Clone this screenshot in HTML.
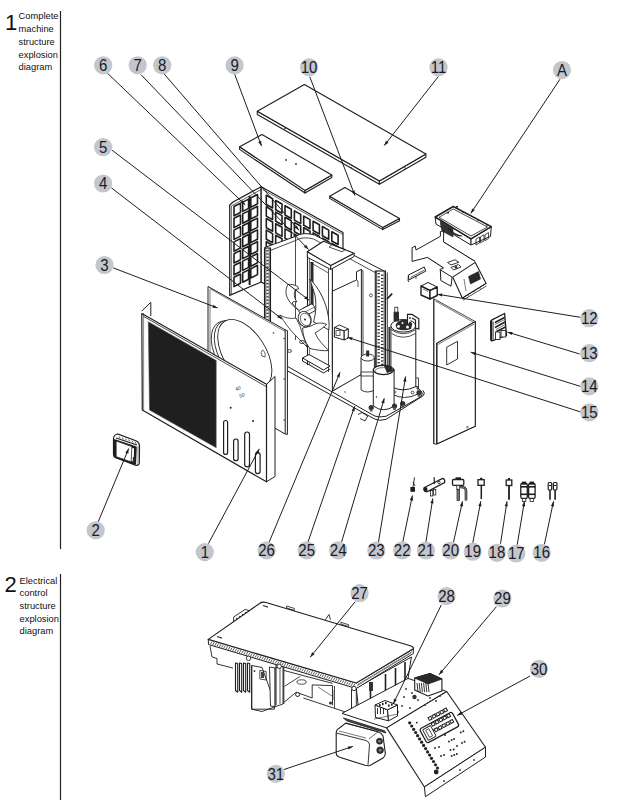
<!DOCTYPE html>
<html><head><meta charset="utf-8">
<style>
html,body{margin:0;padding:0;background:#fff;width:619px;height:810px;overflow:hidden}
body{position:relative;font-family:"Liberation Sans",sans-serif}
.big{position:absolute;font-size:22px;color:#111;line-height:1}
.lab{position:absolute;font-size:9.3px;line-height:12.5px;color:#111}
svg{position:absolute;left:0;top:0}
</style></head><body>
<div class="big" style="left:5px;top:11.5px">1</div>
<div class="lab" style="left:18.6px;top:10.3px;line-height:12.75px">Complete<br>machine<br>structure<br>explosion<br>diagram</div>
<div class="big" style="left:4.6px;top:574px">2</div>
<div class="lab" style="left:19.6px;top:574.6px;line-height:12.65px">Electrical<br>control<br>structure<br>explosion<br>diagram</div>
<svg width="619" height="810" viewBox="0 0 619 810">
<g stroke="#222" stroke-width="1.2">
<line x1="60.5" y1="11" x2="60.5" y2="549"/>
<line x1="60.5" y1="574" x2="60.5" y2="800"/>
</g>
<polygon points="257.3,111.3 379.4,181.1 379.4,184.3 257.3,114.5" fill="#fff" stroke="#1e1e1e" stroke-width="1.1" stroke-linejoin="round" />
<polygon points="379.4,181.1 425.9,154.1 425.9,157.3 379.4,184.3" fill="#fff" stroke="#1e1e1e" stroke-width="1.1" stroke-linejoin="round" />
<polygon points="257.3,111.3 304.4,84.6 425.9,154.1 379.4,181.1" fill="#fff" stroke="#1e1e1e" stroke-width="1.1" stroke-linejoin="round" />
<circle cx="285" cy="128.5" r="0.8" fill="#333"/><circle cx="351" cy="167.5" r="0.8" fill="#333"/><circle cx="405" cy="168" r="0.8" fill="#333"/>
<polygon points="239.6,146.8 305.0,190.4 305.0,193.0 239.6,149.4" fill="#fff" stroke="#1e1e1e" stroke-width="1.1" stroke-linejoin="round" />
<polygon points="305.0,190.4 331.8,175.0 331.8,177.6 305.0,193.0" fill="#fff" stroke="#1e1e1e" stroke-width="1.1" stroke-linejoin="round" />
<polygon points="239.6,146.8 262.0,134.6 331.8,175.0 305.0,190.4" fill="#fff" stroke="#1e1e1e" stroke-width="1.1" stroke-linejoin="round" />
<circle cx="286" cy="160" r="0.9" fill="#333"/><circle cx="296" cy="164" r="0.9" fill="#333"/>
<polygon points="329.7,196.2 382.7,227.4 382.7,229.6 329.7,198.4" fill="#fff" stroke="#1e1e1e" stroke-width="1.1" stroke-linejoin="round" />
<polygon points="382.7,227.4 399.5,218.6 399.5,220.8 382.7,229.6" fill="#fff" stroke="#1e1e1e" stroke-width="1.1" stroke-linejoin="round" />
<polygon points="329.7,196.2 344.9,187.5 399.5,218.6 382.7,227.4" fill="#fff" stroke="#1e1e1e" stroke-width="1.1" stroke-linejoin="round" />
<polygon points="229.7,205.0 233.0,202.0 261.2,186.7 261.2,282.0 229.7,295.4" fill="#fff" stroke="#1e1e1e" stroke-width="1.2" stroke-linejoin="round" />
<polyline points="231.3,206.0 261.2,189.5" fill="none" stroke="#1e1e1e" stroke-width="0.7" stroke-linejoin="round" />
<line x1="231.3" y1="206.0" x2="231.3" y2="294.5" stroke="#1e1e1e" stroke-width="0.7"/>
<line x1="262.7" y1="187.0" x2="262.7" y2="282.0" stroke="#1e1e1e" stroke-width="1.0"/>
<polygon points="261.2,186.7 343.0,232.5 343.0,328.0 261.2,282.0" fill="#fff" stroke="#1e1e1e" stroke-width="1.2" stroke-linejoin="round" />
<polyline points="262.7,189.5 343.0,234.5" fill="none" stroke="#1e1e1e" stroke-width="0.7" stroke-linejoin="round" />
<polygon points="234.0,206.5 240.5,203.2 240.5,212.5 234.0,215.8" fill="none" stroke="#1e1e1e" stroke-width="1.6" stroke-linejoin="round" />
<polygon points="234.0,218.3 240.5,215.0 240.5,224.3 234.0,227.6" fill="none" stroke="#1e1e1e" stroke-width="1.6" stroke-linejoin="round" />
<polygon points="234.0,230.1 240.5,226.8 240.5,236.1 234.0,239.4" fill="none" stroke="#1e1e1e" stroke-width="1.6" stroke-linejoin="round" />
<polygon points="234.0,241.9 240.5,238.6 240.5,247.9 234.0,251.2" fill="none" stroke="#1e1e1e" stroke-width="1.6" stroke-linejoin="round" />
<polygon points="234.0,253.7 240.5,250.4 240.5,259.7 234.0,263.0" fill="none" stroke="#1e1e1e" stroke-width="1.6" stroke-linejoin="round" />
<polygon points="234.0,265.5 240.5,262.2 240.5,271.5 234.0,274.8" fill="none" stroke="#1e1e1e" stroke-width="1.6" stroke-linejoin="round" />
<polygon points="234.0,277.3 240.5,274.0 240.5,283.3 234.0,286.6" fill="none" stroke="#1e1e1e" stroke-width="1.6" stroke-linejoin="round" />
<polygon points="242.7,202.1 248.6,199.1 248.6,208.4 242.7,211.4" fill="none" stroke="#1e1e1e" stroke-width="1.6" stroke-linejoin="round" />
<polygon points="242.7,213.9 248.6,210.9 248.6,220.2 242.7,223.2" fill="none" stroke="#1e1e1e" stroke-width="1.6" stroke-linejoin="round" />
<polygon points="242.7,225.7 248.6,222.7 248.6,232.0 242.7,235.0" fill="none" stroke="#1e1e1e" stroke-width="1.6" stroke-linejoin="round" />
<polygon points="242.7,237.5 248.6,234.5 248.6,243.8 242.7,246.8" fill="none" stroke="#1e1e1e" stroke-width="1.6" stroke-linejoin="round" />
<polygon points="242.7,249.3 248.6,246.3 248.6,255.6 242.7,258.6" fill="none" stroke="#1e1e1e" stroke-width="1.6" stroke-linejoin="round" />
<polygon points="242.7,261.1 248.6,258.1 248.6,267.4 242.7,270.4" fill="none" stroke="#1e1e1e" stroke-width="1.6" stroke-linejoin="round" />
<polygon points="242.7,272.9 248.6,269.9 248.6,279.2 242.7,282.2" fill="none" stroke="#1e1e1e" stroke-width="1.6" stroke-linejoin="round" />
<polygon points="250.8,197.9 257.5,194.5 257.5,203.8 250.8,207.2" fill="none" stroke="#1e1e1e" stroke-width="1.6" stroke-linejoin="round" />
<polygon points="250.8,209.7 257.5,206.3 257.5,215.6 250.8,219.0" fill="none" stroke="#1e1e1e" stroke-width="1.6" stroke-linejoin="round" />
<polygon points="250.8,221.5 257.5,218.1 257.5,227.4 250.8,230.8" fill="none" stroke="#1e1e1e" stroke-width="1.6" stroke-linejoin="round" />
<polygon points="250.8,233.3 257.5,229.9 257.5,239.2 250.8,242.6" fill="none" stroke="#1e1e1e" stroke-width="1.6" stroke-linejoin="round" />
<polygon points="250.8,245.1 257.5,241.7 257.5,251.0 250.8,254.4" fill="none" stroke="#1e1e1e" stroke-width="1.6" stroke-linejoin="round" />
<polygon points="250.8,256.9 257.5,253.5 257.5,262.8 250.8,266.2" fill="none" stroke="#1e1e1e" stroke-width="1.6" stroke-linejoin="round" />
<polygon points="250.8,268.7 257.5,265.3 257.5,274.6 250.8,278.0" fill="none" stroke="#1e1e1e" stroke-width="1.6" stroke-linejoin="round" />
<line x1="249.6" y1="196.0" x2="249.6" y2="285.0" stroke="#1e1e1e" stroke-width="2.0"/>
<polygon points="266.3,195.3 272.6,198.8 272.6,208.0 266.3,204.5" fill="none" stroke="#1e1e1e" stroke-width="1.6" stroke-linejoin="round" />
<polygon points="266.3,206.9 272.6,210.4 272.6,219.6 266.3,216.1" fill="none" stroke="#1e1e1e" stroke-width="1.6" stroke-linejoin="round" />
<polygon points="266.3,218.5 272.6,222.0 272.6,231.2 266.3,227.7" fill="none" stroke="#1e1e1e" stroke-width="1.6" stroke-linejoin="round" />
<polygon points="266.3,230.1 272.6,233.6 272.6,242.8 266.3,239.3" fill="none" stroke="#1e1e1e" stroke-width="1.6" stroke-linejoin="round" />
<polygon points="266.3,241.7 272.6,245.2 272.6,254.4 266.3,250.9" fill="none" stroke="#1e1e1e" stroke-width="1.6" stroke-linejoin="round" />
<polygon points="266.3,253.3 272.6,256.8 272.6,266.0 266.3,262.5" fill="none" stroke="#1e1e1e" stroke-width="1.6" stroke-linejoin="round" />
<polygon points="266.3,264.9 272.6,268.4 272.6,277.6 266.3,274.1" fill="none" stroke="#1e1e1e" stroke-width="1.6" stroke-linejoin="round" />
<polygon points="275.7,200.5 282.0,204.0 282.0,213.2 275.7,209.7" fill="none" stroke="#1e1e1e" stroke-width="1.6" stroke-linejoin="round" />
<polygon points="275.7,212.1 282.0,215.6 282.0,224.8 275.7,221.3" fill="none" stroke="#1e1e1e" stroke-width="1.6" stroke-linejoin="round" />
<polygon points="275.7,223.7 282.0,227.2 282.0,236.4 275.7,232.9" fill="none" stroke="#1e1e1e" stroke-width="1.6" stroke-linejoin="round" />
<polygon points="275.7,235.3 282.0,238.8 282.0,248.0 275.7,244.5" fill="none" stroke="#1e1e1e" stroke-width="1.6" stroke-linejoin="round" />
<polygon points="275.7,246.9 282.0,250.4 282.0,259.6 275.7,256.1" fill="none" stroke="#1e1e1e" stroke-width="1.6" stroke-linejoin="round" />
<polygon points="275.7,258.5 282.0,262.0 282.0,271.2 275.7,267.7" fill="none" stroke="#1e1e1e" stroke-width="1.6" stroke-linejoin="round" />
<polygon points="275.7,270.1 282.0,273.6 282.0,282.8 275.7,279.3" fill="none" stroke="#1e1e1e" stroke-width="1.6" stroke-linejoin="round" />
<polygon points="285.0,205.7 291.3,209.2 291.3,218.4 285.0,214.9" fill="none" stroke="#1e1e1e" stroke-width="1.6" stroke-linejoin="round" />
<polygon points="285.0,217.3 291.3,220.8 291.3,230.0 285.0,226.5" fill="none" stroke="#1e1e1e" stroke-width="1.6" stroke-linejoin="round" />
<polygon points="285.0,228.9 291.3,232.4 291.3,241.6 285.0,238.1" fill="none" stroke="#1e1e1e" stroke-width="1.6" stroke-linejoin="round" />
<polygon points="285.0,240.5 291.3,244.0 291.3,253.2 285.0,249.7" fill="none" stroke="#1e1e1e" stroke-width="1.6" stroke-linejoin="round" />
<polygon points="285.0,252.1 291.3,255.6 291.3,264.8 285.0,261.3" fill="none" stroke="#1e1e1e" stroke-width="1.6" stroke-linejoin="round" />
<polygon points="285.0,263.7 291.3,267.2 291.3,276.4 285.0,272.9" fill="none" stroke="#1e1e1e" stroke-width="1.6" stroke-linejoin="round" />
<polygon points="285.0,275.3 291.3,278.8 291.3,288.0 285.0,284.5" fill="none" stroke="#1e1e1e" stroke-width="1.6" stroke-linejoin="round" />
<polygon points="294.4,210.9 300.7,214.4 300.7,223.6 294.4,220.1" fill="none" stroke="#1e1e1e" stroke-width="1.6" stroke-linejoin="round" />
<polygon points="294.4,222.5 300.7,226.0 300.7,235.2 294.4,231.7" fill="none" stroke="#1e1e1e" stroke-width="1.6" stroke-linejoin="round" />
<polygon points="294.4,234.1 300.7,237.6 300.7,246.8 294.4,243.3" fill="none" stroke="#1e1e1e" stroke-width="1.6" stroke-linejoin="round" />
<polygon points="294.4,245.7 300.7,249.2 300.7,258.4 294.4,254.9" fill="none" stroke="#1e1e1e" stroke-width="1.6" stroke-linejoin="round" />
<polygon points="294.4,257.3 300.7,260.8 300.7,270.0 294.4,266.5" fill="none" stroke="#1e1e1e" stroke-width="1.6" stroke-linejoin="round" />
<polygon points="294.4,268.9 300.7,272.4 300.7,281.6 294.4,278.1" fill="none" stroke="#1e1e1e" stroke-width="1.6" stroke-linejoin="round" />
<polygon points="294.4,280.5 300.7,284.0 300.7,293.2 294.4,289.7" fill="none" stroke="#1e1e1e" stroke-width="1.6" stroke-linejoin="round" />
<polygon points="303.7,216.1 310.0,219.6 310.0,228.8 303.7,225.3" fill="none" stroke="#1e1e1e" stroke-width="1.6" stroke-linejoin="round" />
<polygon points="303.7,227.7 310.0,231.2 310.0,240.4 303.7,236.9" fill="none" stroke="#1e1e1e" stroke-width="1.6" stroke-linejoin="round" />
<polygon points="303.7,239.3 310.0,242.8 310.0,252.0 303.7,248.5" fill="none" stroke="#1e1e1e" stroke-width="1.6" stroke-linejoin="round" />
<polygon points="303.7,250.9 310.0,254.4 310.0,263.6 303.7,260.1" fill="none" stroke="#1e1e1e" stroke-width="1.6" stroke-linejoin="round" />
<polygon points="303.7,262.5 310.0,266.0 310.0,275.2 303.7,271.7" fill="none" stroke="#1e1e1e" stroke-width="1.6" stroke-linejoin="round" />
<polygon points="303.7,274.1 310.0,277.6 310.0,286.8 303.7,283.3" fill="none" stroke="#1e1e1e" stroke-width="1.6" stroke-linejoin="round" />
<polygon points="303.7,285.7 310.0,289.2 310.0,298.4 303.7,294.9" fill="none" stroke="#1e1e1e" stroke-width="1.6" stroke-linejoin="round" />
<polygon points="313.1,221.3 319.4,224.8 319.4,234.0 313.1,230.5" fill="none" stroke="#1e1e1e" stroke-width="1.6" stroke-linejoin="round" />
<polygon points="313.1,232.9 319.4,236.4 319.4,245.6 313.1,242.1" fill="none" stroke="#1e1e1e" stroke-width="1.6" stroke-linejoin="round" />
<polygon points="313.1,244.5 319.4,248.0 319.4,257.2 313.1,253.7" fill="none" stroke="#1e1e1e" stroke-width="1.6" stroke-linejoin="round" />
<polygon points="313.1,256.1 319.4,259.6 319.4,268.8 313.1,265.3" fill="none" stroke="#1e1e1e" stroke-width="1.6" stroke-linejoin="round" />
<polygon points="313.1,267.7 319.4,271.2 319.4,280.4 313.1,276.9" fill="none" stroke="#1e1e1e" stroke-width="1.6" stroke-linejoin="round" />
<polygon points="313.1,279.3 319.4,282.8 319.4,292.0 313.1,288.5" fill="none" stroke="#1e1e1e" stroke-width="1.6" stroke-linejoin="round" />
<polygon points="313.1,290.9 319.4,294.4 319.4,303.6 313.1,300.1" fill="none" stroke="#1e1e1e" stroke-width="1.6" stroke-linejoin="round" />
<polygon points="322.4,226.5 328.7,230.1 328.7,239.3 322.4,235.7" fill="none" stroke="#1e1e1e" stroke-width="1.6" stroke-linejoin="round" />
<polygon points="322.4,238.1 328.7,241.7 328.7,250.9 322.4,247.3" fill="none" stroke="#1e1e1e" stroke-width="1.6" stroke-linejoin="round" />
<polygon points="322.4,249.7 328.7,253.3 328.7,262.5 322.4,258.9" fill="none" stroke="#1e1e1e" stroke-width="1.6" stroke-linejoin="round" />
<polygon points="322.4,261.3 328.7,264.9 328.7,274.1 322.4,270.5" fill="none" stroke="#1e1e1e" stroke-width="1.6" stroke-linejoin="round" />
<polygon points="322.4,272.9 328.7,276.5 328.7,285.7 322.4,282.1" fill="none" stroke="#1e1e1e" stroke-width="1.6" stroke-linejoin="round" />
<polygon points="322.4,284.5 328.7,288.1 328.7,297.3 322.4,293.7" fill="none" stroke="#1e1e1e" stroke-width="1.6" stroke-linejoin="round" />
<polygon points="322.4,296.1 328.7,299.7 328.7,308.9 322.4,305.3" fill="none" stroke="#1e1e1e" stroke-width="1.6" stroke-linejoin="round" />
<polygon points="331.8,231.8 338.1,235.3 338.1,244.5 331.8,241.0" fill="none" stroke="#1e1e1e" stroke-width="1.6" stroke-linejoin="round" />
<polygon points="331.8,243.4 338.1,246.9 338.1,256.1 331.8,252.6" fill="none" stroke="#1e1e1e" stroke-width="1.6" stroke-linejoin="round" />
<polygon points="331.8,255.0 338.1,258.5 338.1,267.7 331.8,264.2" fill="none" stroke="#1e1e1e" stroke-width="1.6" stroke-linejoin="round" />
<polygon points="331.8,266.6 338.1,270.1 338.1,279.3 331.8,275.8" fill="none" stroke="#1e1e1e" stroke-width="1.6" stroke-linejoin="round" />
<polygon points="331.8,278.2 338.1,281.7 338.1,290.9 331.8,287.4" fill="none" stroke="#1e1e1e" stroke-width="1.6" stroke-linejoin="round" />
<polygon points="331.8,289.8 338.1,293.3 338.1,302.5 331.8,299.0" fill="none" stroke="#1e1e1e" stroke-width="1.6" stroke-linejoin="round" />
<polygon points="331.8,301.4 338.1,304.9 338.1,314.1 331.8,310.6" fill="none" stroke="#1e1e1e" stroke-width="1.6" stroke-linejoin="round" />
<path d="M264.5,247.6 L295.5,236.4 Q303,231.5 314.9,235.1 L387.3,272.5 L387.3,372 L264.5,372 Z" fill="#fff" stroke="none"/>
<path d="M264.5,247.6 L295.5,236.4 Q303,231.5 314.9,235.1 L384,271" fill="none" stroke="#1e1e1e" stroke-width="1"/>
<path d="M270.2,250.5 L295.5,240.5 Q303,236 313.5,239 L376,273" fill="none" stroke="#1e1e1e" stroke-width="0.8"/>
<line x1="295.5" y1="236.4" x2="295.5" y2="340.0" stroke="#1e1e1e" stroke-width="0.8"/>
<rect x="264.5" y="248" width="6.0" height="104" fill="#fff" stroke="#1e1e1e" stroke-width="1.1"/>
<line x1="265.8" y1="248" x2="265.8" y2="352" stroke="#1e1e1e" stroke-width="0.8"/>
<line x1="269.2" y1="248" x2="269.2" y2="352" stroke="#1e1e1e" stroke-width="0.8"/>
<rect x="266.5" y="250.0" width="2.0" height="1.3" fill="#2a2a2a"/>
<rect x="266.5" y="253.3" width="2.0" height="1.3" fill="#2a2a2a"/>
<rect x="266.5" y="256.6" width="2.0" height="1.3" fill="#2a2a2a"/>
<rect x="266.5" y="259.9" width="2.0" height="1.3" fill="#2a2a2a"/>
<rect x="266.5" y="263.2" width="2.0" height="1.3" fill="#2a2a2a"/>
<rect x="266.5" y="266.5" width="2.0" height="1.3" fill="#2a2a2a"/>
<rect x="266.5" y="269.8" width="2.0" height="1.3" fill="#2a2a2a"/>
<rect x="266.5" y="273.1" width="2.0" height="1.3" fill="#2a2a2a"/>
<rect x="266.5" y="276.4" width="2.0" height="1.3" fill="#2a2a2a"/>
<rect x="266.5" y="279.7" width="2.0" height="1.3" fill="#2a2a2a"/>
<rect x="266.5" y="283.0" width="2.0" height="1.3" fill="#2a2a2a"/>
<rect x="266.5" y="286.3" width="2.0" height="1.3" fill="#2a2a2a"/>
<rect x="266.5" y="289.6" width="2.0" height="1.3" fill="#2a2a2a"/>
<rect x="266.5" y="292.9" width="2.0" height="1.3" fill="#2a2a2a"/>
<rect x="266.5" y="296.2" width="2.0" height="1.3" fill="#2a2a2a"/>
<rect x="266.5" y="299.5" width="2.0" height="1.3" fill="#2a2a2a"/>
<rect x="266.5" y="302.8" width="2.0" height="1.3" fill="#2a2a2a"/>
<rect x="266.5" y="306.1" width="2.0" height="1.3" fill="#2a2a2a"/>
<rect x="266.5" y="309.4" width="2.0" height="1.3" fill="#2a2a2a"/>
<rect x="266.5" y="312.7" width="2.0" height="1.3" fill="#2a2a2a"/>
<rect x="266.5" y="316.0" width="2.0" height="1.3" fill="#2a2a2a"/>
<rect x="266.5" y="319.3" width="2.0" height="1.3" fill="#2a2a2a"/>
<rect x="266.5" y="322.6" width="2.0" height="1.3" fill="#2a2a2a"/>
<rect x="266.5" y="325.9" width="2.0" height="1.3" fill="#2a2a2a"/>
<rect x="266.5" y="329.2" width="2.0" height="1.3" fill="#2a2a2a"/>
<rect x="266.5" y="332.5" width="2.0" height="1.3" fill="#2a2a2a"/>
<rect x="266.5" y="335.8" width="2.0" height="1.3" fill="#2a2a2a"/>
<rect x="266.5" y="339.1" width="2.0" height="1.3" fill="#2a2a2a"/>
<rect x="266.5" y="342.4" width="2.0" height="1.3" fill="#2a2a2a"/>
<rect x="266.5" y="345.7" width="2.0" height="1.3" fill="#2a2a2a"/>
<rect x="266.5" y="349.0" width="2.0" height="1.3" fill="#2a2a2a"/>
<rect x="307.3" y="255" width="25" height="118" fill="#fff" stroke="none"/>
<line x1="307.5" y1="255.0" x2="307.5" y2="365.0" stroke="#1e1e1e" stroke-width="1.1"/>
<line x1="309.5" y1="258.0" x2="309.5" y2="365.0" stroke="#1e1e1e" stroke-width="0.6"/>
<rect x="310.5" y="262" width="3" height="44" fill="#2a2a2a"/>
<line x1="328.5" y1="269.0" x2="328.5" y2="372.0" stroke="#1e1e1e" stroke-width="0.8"/>
<line x1="332.4" y1="269.0" x2="332.4" y2="374.0" stroke="#1e1e1e" stroke-width="1.1"/>
<line x1="309.5" y1="262.0" x2="328.5" y2="273.0" stroke="#1e1e1e" stroke-width="0.7"/>
<polygon points="332.4,291.2 356.5,279.9 356.5,271.8 361.4,269.4 361.4,374.5 332.4,391.2" fill="#fff" stroke="#1e1e1e" stroke-width="1.0" stroke-linejoin="round" />
<line x1="361.4" y1="269.4" x2="363.0" y2="271.0" stroke="#1e1e1e" stroke-width="0.8"/>
<line x1="363.0" y1="271.0" x2="363.0" y2="370.0" stroke="#1e1e1e" stroke-width="0.8"/>
<polyline points="356.5,279.9 358.0,281.0 358.0,287.0" fill="none" stroke="#1e1e1e" stroke-width="0.7" stroke-linejoin="round" />
<circle cx="370.9" cy="295.3" r="1.5" fill="none" stroke="#222" stroke-width="0.7"/>
<polygon points="307.3,251.7 330.7,265.4 330.7,269.4 307.3,257.3" fill="#fff" stroke="#1e1e1e" stroke-width="1.0" stroke-linejoin="round" />
<polygon points="330.7,265.4 354.1,253.3 354.1,256.5 330.7,269.4" fill="#fff" stroke="#1e1e1e" stroke-width="1.0" stroke-linejoin="round" />
<polygon points="307.3,251.7 323.4,241.2 354.1,253.3 330.7,265.4" fill="#fff" stroke="#1e1e1e" stroke-width="1.1" stroke-linejoin="round" />
<polygon points="332.0,244.6 345.5,249.5 342.0,251.8 329.0,247.0" fill="none" stroke="#1e1e1e" stroke-width="0.8" stroke-linejoin="round" />
<rect x="375.3" y="271" width="10.199999999999989" height="97" fill="#fff" stroke="#1e1e1e" stroke-width="1.1"/>
<line x1="376.6" y1="271" x2="376.6" y2="368" stroke="#1e1e1e" stroke-width="0.8"/>
<line x1="384.2" y1="271" x2="384.2" y2="368" stroke="#1e1e1e" stroke-width="0.8"/>
<rect x="377.5" y="273.0" width="2.3" height="1.2" fill="#1e1e1e"/>
<rect x="381.0" y="274.6" width="2.3" height="1.2" fill="#1e1e1e"/>
<rect x="377.5" y="276.3" width="2.3" height="1.2" fill="#1e1e1e"/>
<rect x="381.0" y="277.9" width="2.3" height="1.2" fill="#1e1e1e"/>
<rect x="377.5" y="279.6" width="2.3" height="1.2" fill="#1e1e1e"/>
<rect x="381.0" y="281.2" width="2.3" height="1.2" fill="#1e1e1e"/>
<rect x="377.5" y="282.9" width="2.3" height="1.2" fill="#1e1e1e"/>
<rect x="381.0" y="284.5" width="2.3" height="1.2" fill="#1e1e1e"/>
<rect x="377.5" y="286.2" width="2.3" height="1.2" fill="#1e1e1e"/>
<rect x="381.0" y="287.8" width="2.3" height="1.2" fill="#1e1e1e"/>
<rect x="377.5" y="289.5" width="2.3" height="1.2" fill="#1e1e1e"/>
<rect x="381.0" y="291.1" width="2.3" height="1.2" fill="#1e1e1e"/>
<rect x="377.5" y="292.8" width="2.3" height="1.2" fill="#1e1e1e"/>
<rect x="381.0" y="294.4" width="2.3" height="1.2" fill="#1e1e1e"/>
<rect x="377.5" y="296.1" width="2.3" height="1.2" fill="#1e1e1e"/>
<rect x="381.0" y="297.7" width="2.3" height="1.2" fill="#1e1e1e"/>
<rect x="377.5" y="299.4" width="2.3" height="1.2" fill="#1e1e1e"/>
<rect x="381.0" y="301.0" width="2.3" height="1.2" fill="#1e1e1e"/>
<rect x="377.5" y="302.7" width="2.3" height="1.2" fill="#1e1e1e"/>
<rect x="381.0" y="304.3" width="2.3" height="1.2" fill="#1e1e1e"/>
<rect x="377.5" y="306.0" width="2.3" height="1.2" fill="#1e1e1e"/>
<rect x="381.0" y="307.6" width="2.3" height="1.2" fill="#1e1e1e"/>
<rect x="377.5" y="309.3" width="2.3" height="1.2" fill="#1e1e1e"/>
<rect x="381.0" y="310.9" width="2.3" height="1.2" fill="#1e1e1e"/>
<rect x="377.5" y="312.6" width="2.3" height="1.2" fill="#1e1e1e"/>
<rect x="381.0" y="314.2" width="2.3" height="1.2" fill="#1e1e1e"/>
<rect x="377.5" y="315.9" width="2.3" height="1.2" fill="#1e1e1e"/>
<rect x="381.0" y="317.5" width="2.3" height="1.2" fill="#1e1e1e"/>
<rect x="377.5" y="319.2" width="2.3" height="1.2" fill="#1e1e1e"/>
<rect x="381.0" y="320.8" width="2.3" height="1.2" fill="#1e1e1e"/>
<rect x="377.5" y="322.5" width="2.3" height="1.2" fill="#1e1e1e"/>
<rect x="381.0" y="324.1" width="2.3" height="1.2" fill="#1e1e1e"/>
<rect x="377.5" y="325.8" width="2.3" height="1.2" fill="#1e1e1e"/>
<rect x="381.0" y="327.4" width="2.3" height="1.2" fill="#1e1e1e"/>
<rect x="377.5" y="329.1" width="2.3" height="1.2" fill="#1e1e1e"/>
<rect x="381.0" y="330.7" width="2.3" height="1.2" fill="#1e1e1e"/>
<rect x="377.5" y="332.4" width="2.3" height="1.2" fill="#1e1e1e"/>
<rect x="381.0" y="334.0" width="2.3" height="1.2" fill="#1e1e1e"/>
<rect x="377.5" y="335.7" width="2.3" height="1.2" fill="#1e1e1e"/>
<rect x="381.0" y="337.3" width="2.3" height="1.2" fill="#1e1e1e"/>
<rect x="377.5" y="339.0" width="2.3" height="1.2" fill="#1e1e1e"/>
<rect x="381.0" y="340.6" width="2.3" height="1.2" fill="#1e1e1e"/>
<rect x="377.5" y="342.3" width="2.3" height="1.2" fill="#1e1e1e"/>
<rect x="381.0" y="343.9" width="2.3" height="1.2" fill="#1e1e1e"/>
<rect x="377.5" y="345.6" width="2.3" height="1.2" fill="#1e1e1e"/>
<rect x="381.0" y="347.2" width="2.3" height="1.2" fill="#1e1e1e"/>
<rect x="377.5" y="348.9" width="2.3" height="1.2" fill="#1e1e1e"/>
<rect x="381.0" y="350.5" width="2.3" height="1.2" fill="#1e1e1e"/>
<rect x="377.5" y="352.2" width="2.3" height="1.2" fill="#1e1e1e"/>
<rect x="381.0" y="353.8" width="2.3" height="1.2" fill="#1e1e1e"/>
<rect x="377.5" y="355.5" width="2.3" height="1.2" fill="#1e1e1e"/>
<rect x="381.0" y="357.1" width="2.3" height="1.2" fill="#1e1e1e"/>
<rect x="377.5" y="358.8" width="2.3" height="1.2" fill="#1e1e1e"/>
<rect x="381.0" y="360.4" width="2.3" height="1.2" fill="#1e1e1e"/>
<rect x="377.5" y="362.1" width="2.3" height="1.2" fill="#1e1e1e"/>
<rect x="381.0" y="363.7" width="2.3" height="1.2" fill="#1e1e1e"/>
<rect x="377.5" y="365.4" width="2.3" height="1.2" fill="#1e1e1e"/>
<rect x="381.0" y="367.0" width="2.3" height="1.2" fill="#1e1e1e"/>
<line x1="387.3" y1="272.5" x2="387.3" y2="372.0" stroke="#1e1e1e" stroke-width="0.9"/>
<polygon points="302.5,358.0 309.0,354.5 330.0,366.0 323.5,370.0" fill="#fff" stroke="#1e1e1e" stroke-width="1.0" stroke-linejoin="round" />
<polyline points="302.5,358.0 302.5,361.0 323.5,373.0 330.0,369.0" fill="none" stroke="#1e1e1e" stroke-width="1.0" stroke-linejoin="round" />
<path d="M309.9,279.2 C318,287 324,298 327,310 C329,318 329.5,324 328.8,330 C324,327 318,324 313.5,322 C316,314 317,300 314,292 C312.5,287 311,283 309.9,279.2 Z" fill="#fff" stroke="#1e1e1e" stroke-width="0.9"/>
<path d="M302.6,328 C303,336 305,342 309.9,348.5 C316,350 323,351 328.8,350.6 C324,346 318,340 315,333 C320,330 324,327 326.7,324.4 C321,322 316,323 311,326 Z" fill="#fff" stroke="#1e1e1e" stroke-width="0.85"/>
<path d="M296,318 C290,319 285,318 280,315 C284,322 290,330 296,336 C300,340 304,344 307,347 C305,340 302,334 300,326 Z" fill="#fff" stroke="#1e1e1e" stroke-width="0.8"/>
<path d="M298.4,310 C294,307 291,304 288.5,300 C285.5,295 285,290 287.9,284.5 C291,284 295,285 297.8,286.6 L298.6,289 L295.5,289.5 C293.5,293 294,298 297,302 C295,301 293,301.5 292,303 C294,305 296,308 298.4,310 Z" fill="#fff" stroke="#1e1e1e" stroke-width="0.85"/>
<path d="M298.4,310.7 L311.5,304 Q315,305 315.2,310.7 L303,317 Z" fill="#fff" stroke="#1e1e1e" stroke-width="0.9"/>
<path d="M303,308 L313,303 M305,312 L314.5,307" stroke="#1e1e1e" stroke-width="0.6"/>
<ellipse cx="0" cy="0" rx="6.3" ry="8" fill="#fff" stroke="#1e1e1e" stroke-width="0.9" transform="translate(304.7,319.1) rotate(-25)"/>
<ellipse cx="0" cy="0" rx="4.8" ry="6.5" fill="none" stroke="#1e1e1e" stroke-width="0.6" transform="translate(305.5,319.5) rotate(-25)"/>
<circle cx="305" cy="319.6" r="1" fill="#222"/>
<ellipse cx="302" cy="342" rx="2.5" ry="1.6" fill="none" stroke="#222" stroke-width="0.8"/>
<ellipse cx="289.5" cy="351" rx="2" ry="1.4" fill="none" stroke="#222" stroke-width="0.8"/>
<polygon points="334.4,327.5 339.5,325.0 348.3,329.0 344.2,331.0" fill="#fff" stroke="#1e1e1e" stroke-width="0.9" stroke-linejoin="round" />
<polygon points="334.4,327.5 344.2,331.0 344.2,340.0 334.4,337.0" fill="#fff" stroke="#1e1e1e" stroke-width="1.0" stroke-linejoin="round" />
<polygon points="344.2,331.0 348.3,329.0 348.3,338.0 344.2,340.0" fill="#fff" stroke="#1e1e1e" stroke-width="1.0" stroke-linejoin="round" />
<rect x="336" y="330.5" width="4" height="5" fill="none" stroke="#222" stroke-width="0.7"/>
<line x1="387.0" y1="299.0" x2="392.2" y2="293.6" stroke="#1e1e1e" stroke-width="1.6"/>
<path d="M287.8,366.6 L372.5,414.8 Q377,418 386.2,416.2 L420.5,397 Q425,393 417.8,388 L416,384 L362,372 L332.4,391.2 Z" fill="#fff" stroke="none"/>
<path d="M287.8,366.6 L372.5,414.8 Q377,418 386.2,416.2 L420.5,397 Q425,393 417.8,388" fill="none" stroke="#1e1e1e" stroke-width="1"/>
<path d="M287.8,371 L374.5,419 Q380,421.5 386.2,419.3 L423.3,395.6 Q425.5,393 423,390.5" fill="none" stroke="#1e1e1e" stroke-width="1"/>
<line x1="332.4" y1="391.2" x2="361.5" y2="374.4" stroke="#1e1e1e" stroke-width="1.0"/>
<polyline points="358.0,414.5 362.0,412.5 367.7,416.0 365.0,421.0 360.0,418.5" fill="none" stroke="#1e1e1e" stroke-width="0.9" stroke-linejoin="round" />
<circle cx="345" cy="392" r="0.7" fill="#333"/>
<path d="M361.1,358 L361.1,390 Q367.5,394 374.4,390 L374.4,358 Z" fill="#fff" stroke="#1e1e1e" stroke-width="0.9"/>
<ellipse cx="367.7" cy="357.5" rx="6.6" ry="3.5" fill="#fff" stroke="#1e1e1e" stroke-width="0.9"/>
<rect x="366.2" y="350.5" width="3" height="6" fill="#2a2a2a"/>
<rect x="361.1" y="372" width="13.3" height="4" fill="#fff" stroke="#1e1e1e" stroke-width="0.8"/>
<line x1="389.2" y1="327.0" x2="389.2" y2="367.4" stroke="#1e1e1e" stroke-width="1.4"/>
<path d="M392,386.6 L392,394 Q404,401 418,394 L418,386.6 Z" fill="#fff" stroke="#1e1e1e" stroke-width="0.9"/>
<circle cx="412.5" cy="392.5" r="1.4" fill="none" stroke="#222" stroke-width="0.8"/>
<circle cx="395" cy="392" r="1" fill="none" stroke="#222" stroke-width="0.6"/>
<path d="M390.9,326.5 L390.9,386.6 Q403.3,393 415.8,386.6 L415.8,326.5 Z" fill="#fff" stroke="#1e1e1e" stroke-width="1"/>
<ellipse cx="403.3" cy="325.8" rx="12.45" ry="6.3" fill="#fff" stroke="#1e1e1e" stroke-width="1"/>
<path d="M390.9,329.5 Q403.3,338 415.8,329.5" fill="none" stroke="#1e1e1e" stroke-width="0.8"/>
<path d="M391.5,333.5 Q403.3,341 415.5,333.5" fill="none" stroke="#1e1e1e" stroke-width="0.8"/>
<path d="M395.5,325 Q398,320 404,319.5 Q410,320 412.3,324 L411,329 Q404,331.5 397,329 Z" fill="#2a2a2a"/>
<circle cx="398.5" cy="326.5" r="1.4" fill="#fff"/><circle cx="407.5" cy="327" r="1.5" fill="#fff"/><circle cx="402.5" cy="323" r="1" fill="#fff"/>
<rect x="393.6" y="311.5" width="5.4" height="10" rx="1" fill="#2a2a2a"/><rect x="394.8" y="307.2" width="3" height="5" fill="#fff" stroke="#222" stroke-width="0.8"/>
<path d="M407.5,325 L407.5,314.4 L412,314.4 L418.8,318.8 L418.8,329 L415.5,328 L415.5,320 L412,318" fill="#fff" stroke="#1e1e1e" stroke-width="1.2"/>
<circle cx="410" cy="318" r="0.9" fill="#333"/>
<path d="M416,378 L418.5,378 L418.5,388 L416,388" fill="none" stroke="#1e1e1e" stroke-width="0.8"/>
<path d="M373.3,369 L373.3,406 Q383.7,413.5 394.1,406 L394.1,369 Z" fill="#fff" stroke="#1e1e1e" stroke-width="1"/>
<ellipse cx="383.5" cy="370" rx="10.2" ry="4.6" fill="#fff" stroke="#1e1e1e" stroke-width="1.2"/>
<ellipse cx="383.5" cy="371" rx="8.5" ry="3.4" fill="none" stroke="#1e1e1e" stroke-width="0.6"/>
<path d="M384,366 L391,366 L393.5,371 L387,373 Z" fill="#2a2a2a"/>
<circle cx="376.5" cy="397" r="0.8" fill="#333"/>
<circle cx="371.2" cy="407.5" r="2.6" fill="#333"/>
<rect x="369.9" y="409.0" width="2.6" height="2.5" fill="#555"/>
<circle cx="394.5" cy="406" r="2.6" fill="#333"/>
<rect x="393.2" y="407.5" width="2.6" height="2.5" fill="#555"/>
<circle cx="402.7" cy="403.5" r="2.6" fill="#333"/>
<rect x="401.4" y="405.0" width="2.6" height="2.5" fill="#555"/>
<circle cx="419" cy="392.8" r="2.6" fill="#333"/>
<rect x="417.7" y="394.3" width="2.6" height="2.5" fill="#555"/>
<polygon points="208.0,286.5 285.2,329.8 287.4,330.6 287.4,434.5 285.2,434.0 208.0,390.0" fill="#fff" stroke="#1e1e1e" stroke-width="1.0" stroke-linejoin="round" />
<line x1="285.2" y1="329.8" x2="285.2" y2="434.0" stroke="#1e1e1e" stroke-width="1.0"/>
<line x1="210.5" y1="289.0" x2="285.2" y2="331.5" stroke="#1e1e1e" stroke-width="0.6"/>
<line x1="210.0" y1="289.0" x2="210.0" y2="390.0" stroke="#1e1e1e" stroke-width="0.6"/>
<ellipse cx="238.3" cy="355.3" rx="38.3" ry="21.1" fill="#fff" stroke="#1e1e1e" stroke-width="0.8" transform="rotate(58 238.3 355.3)"/>
<ellipse cx="241.3" cy="354.6" rx="38.3" ry="21.1" fill="#fff" stroke="#1e1e1e" stroke-width="0.8" transform="rotate(58 241.3 354.6)"/>
<ellipse cx="244.8" cy="353.8" rx="38.3" ry="21.1" fill="#fff" stroke="#1e1e1e" stroke-width="0.9" transform="rotate(58 244.8 353.8)"/>
<path d="M262.5,350 Q266,352 265,357 L262,356 Q260,352 262.5,350 Z" fill="#fff" stroke="#222" stroke-width="0.7"/>
<circle cx="273.5" cy="333" r="0.8" fill="#333"/>
<circle cx="284.1" cy="338.5" r="0.8" fill="#333"/>
<circle cx="284.1" cy="379" r="0.8" fill="#333"/>
<circle cx="284.1" cy="420" r="0.8" fill="#333"/>
<polygon points="266.5,384.3 275.0,376.5 275.0,476.5 266.5,481.8" fill="#fff" stroke="#1e1e1e" stroke-width="1.0" stroke-linejoin="round" />
<polygon points="141.8,313.6 266.5,384.3 266.5,481.8 142.3,410.1" fill="#fff" stroke="#1e1e1e" stroke-width="1.2" stroke-linejoin="round" />
<line x1="143.4" y1="316.3" x2="266.5" y2="386.8" stroke="#1e1e1e" stroke-width="0.8"/>
<polyline points="141.8,311.0 150.8,302.3 150.8,316.0" fill="none" stroke="#1e1e1e" stroke-width="1.0" stroke-linejoin="round" />
<line x1="143.6" y1="313.0" x2="143.6" y2="410.0" stroke="#1e1e1e" stroke-width="0.5"/>
<polygon points="148.3,321.7 216.2,360.4 216.2,447.7 149.5,410.1" fill="#1f1f1f" stroke="#555" stroke-width="0.6" stroke-linejoin="round" />
<rect x="223.6" y="420.5" width="4.0" height="34.0" rx="2.0" fill="none" stroke="#1e1e1e" stroke-width="1.2"/>
<rect x="233.6" y="439" width="4.5" height="21.69999999999999" rx="2.25" fill="none" stroke="#1e1e1e" stroke-width="1.2"/>
<rect x="244.7" y="432" width="4.800000000000011" height="34.80000000000001" rx="2.4000000000000057" fill="none" stroke="#1e1e1e" stroke-width="1.2"/>
<rect x="255.4" y="452.6" width="4.700000000000017" height="21.0" rx="2.3500000000000085" fill="none" stroke="#1e1e1e" stroke-width="1.2"/>
<circle cx="230.7" cy="407.7" r="1" fill="#222"/>
<circle cx="253" cy="421" r="1" fill="#222"/>
<text x="236" y="391" font-size="5" font-family="Liberation Sans" fill="#333" transform="rotate(-20 236 391)">40</text>
<text x="240" y="398" font-size="5" font-family="Liberation Sans" fill="#333" transform="rotate(-20 240 398)">50</text>
<polygon points="435.2,217.0 471.0,238.8 471.0,245.0 436.0,224.0" fill="#fff" stroke="#1e1e1e" stroke-width="1.0" stroke-linejoin="round" />
<polygon points="471.0,238.8 491.3,226.7 490.5,236.3 471.0,245.0" fill="#fff" stroke="#1e1e1e" stroke-width="1.0" stroke-linejoin="round" />
<polygon points="440.5,221.0 453.0,229.0 453.0,237.0 442.0,231.0 440.5,224.0" fill="#333" stroke="#1e1e1e" stroke-width="0.6" stroke-linejoin="round" />
<path d="M448,228 Q455,236 462,236" fill="none" stroke="#222" stroke-width="1.2"/>
<polygon points="435.2,217.0 453.3,206.5 491.3,226.7 471.0,238.8" fill="#fff" stroke="#1e1e1e" stroke-width="1.5" stroke-linejoin="round" />
<polygon points="439.0,217.3 453.3,209.0 487.5,227.0 471.0,236.0" fill="none" stroke="#1e1e1e" stroke-width="0.8" stroke-linejoin="round" />
<polygon points="476.0,239.0 479.5,237.0 479.5,243.0 476.0,245.0" fill="none" stroke="#1e1e1e" stroke-width="0.8" stroke-linejoin="round" />
<polygon points="480.5,236.8 484.0,234.8 484.0,240.8 480.5,242.8" fill="none" stroke="#1e1e1e" stroke-width="0.8" stroke-linejoin="round" />
<polygon points="485.0,234.6 488.5,232.6 488.5,238.6 485.0,240.6" fill="none" stroke="#1e1e1e" stroke-width="0.8" stroke-linejoin="round" />
<rect x="447" y="212" width="2" height="1.5" fill="#222"/>
<rect x="456" y="206" width="2" height="1.5" fill="#222"/>
<rect x="462" y="211" width="2" height="1.5" fill="#222"/>
<rect x="477" y="219" width="2" height="1.5" fill="#222"/>
<rect x="486" y="224" width="2" height="1.5" fill="#222"/>
<polyline points="412.1,261.4 412.1,247.7 415.3,246.0 416.0,250.0 440.4,236.3 440.4,231.5 443.6,230.7 443.6,242.0 475.1,261.4" fill="none" stroke="#1e1e1e" stroke-width="1.0" stroke-linejoin="round" />
<polyline points="412.1,261.4 427.5,257.4 443.6,267.9 439.6,269.5" fill="none" stroke="#1e1e1e" stroke-width="1.0" stroke-linejoin="round" />
<polygon points="443.6,242.0 475.1,261.4 452.7,277.1 443.6,267.9 427.5,257.4" fill="#fff" stroke="#1e1e1e" stroke-width="0" stroke-linejoin="round" />
<line x1="443.6" y1="242.0" x2="475.1" y2="261.4" stroke="#1e1e1e" stroke-width="1.0"/>
<line x1="427.5" y1="257.4" x2="443.6" y2="267.9" stroke="#1e1e1e" stroke-width="1.0"/>
<polygon points="447.5,262.5 455.0,259.8 458.8,262.2 451.0,265.0" fill="#fff" stroke="#1e1e1e" stroke-width="0.9" stroke-linejoin="round" />
<polygon points="451.0,267.5 458.5,264.5 461.0,267.0 453.5,270.0" fill="#fff" stroke="#1e1e1e" stroke-width="0.9" stroke-linejoin="round" />
<circle cx="456" cy="267.3" r="1.4" fill="#333"/>
<polygon points="440.3,269.8 452.1,277.1 451.0,286.2 440.8,280.5" fill="#fff" stroke="#1e1e1e" stroke-width="1.0" stroke-linejoin="round" />
<polygon points="452.7,277.1 475.3,262.4 486.1,283.4 462.3,298.1" fill="#fff" stroke="#1e1e1e" stroke-width="1.1" stroke-linejoin="round" />
<polygon points="468.5,276.5 478.5,271.5 480.5,279.0 470.5,284.0" fill="#2a2a2a" stroke="#1e1e1e" stroke-width="0.6" stroke-linejoin="round" />
<line x1="464.0" y1="279.0" x2="466.0" y2="291.0" stroke="#1e1e1e" stroke-width="0.6"/>
<line x1="462.3" y1="298.1" x2="486.1" y2="283.4" stroke="#1e1e1e" stroke-width="1.0"/>
<line x1="462.8" y1="300.3" x2="486.4" y2="286.0" stroke="#1e1e1e" stroke-width="0.8"/>
<circle cx="468" cy="295" r="0.7" fill="#333"/>
<circle cx="474" cy="291.5" r="0.7" fill="#333"/>
<circle cx="480" cy="288" r="0.7" fill="#333"/>
<polygon points="421.0,286.0 428.0,282.5 437.2,287.0 430.0,290.5" fill="#fff" stroke="#1e1e1e" stroke-width="1.0" stroke-linejoin="round" />
<polygon points="421.0,286.0 430.0,290.5 430.0,299.0 421.0,295.0" fill="#fff" stroke="#1e1e1e" stroke-width="1.4" stroke-linejoin="round" />
<polygon points="430.0,290.5 437.2,287.0 437.2,295.5 430.0,299.0" fill="#fff" stroke="#1e1e1e" stroke-width="1.4" stroke-linejoin="round" />
<line x1="423.0" y1="289.0" x2="428.0" y2="291.5" stroke="#1e1e1e" stroke-width="0.6"/>
<polygon points="408.4,275.1 424.2,267.0 425.8,271.1 408.9,280.0" fill="#fff" stroke="#1e1e1e" stroke-width="1.0" stroke-linejoin="round" />
<line x1="410.5" y1="277.5" x2="424.5" y2="270.0" stroke="#1e1e1e" stroke-width="0.7"/>
<polyline points="408.4,275.1 408.0,281.0 409.0,282.0" fill="none" stroke="#1e1e1e" stroke-width="0.9" stroke-linejoin="round" />
<line x1="416.0" y1="276.0" x2="416.0" y2="279.0" stroke="#1e1e1e" stroke-width="0.7"/>
<polygon points="433.8,298.8 475.3,321.5 475.3,426.2 436.8,444.0 433.8,444.0" fill="#fff" stroke="#1e1e1e" stroke-width="0.8" stroke-linejoin="round" />
<polygon points="436.8,343.2 475.3,321.5 475.3,426.2 436.8,444.0" fill="#fff" stroke="#1e1e1e" stroke-width="1.1" stroke-linejoin="round" />
<line x1="435.5" y1="301.0" x2="473.0" y2="322.0" stroke="#1e1e1e" stroke-width="0.6"/>
<line x1="438.0" y1="344.5" x2="474.0" y2="324.0" stroke="#1e1e1e" stroke-width="0.6"/>
<line x1="433.8" y1="298.8" x2="433.8" y2="444.0" stroke="#1e1e1e" stroke-width="0.9"/>
<line x1="436.8" y1="343.2" x2="436.8" y2="444.0" stroke="#1e1e1e" stroke-width="1.0"/>
<polygon points="446.7,347.2 457.5,341.3 457.5,359.0 446.7,365.0" fill="none" stroke="#1e1e1e" stroke-width="0.9" stroke-linejoin="round" />
<circle cx="467.4" cy="427.2" r="0.9" fill="none" stroke="#222" stroke-width="0.6"/>
<path d="M490.7,322 Q490.7,320.5 492,319.8 L504.6,313.4 L506.5,335.4 L492,340.8 Q491,341 491,339.5 Z" fill="#fff" stroke="#1e1e1e" stroke-width="1.3"/>
<line x1="491.3" y1="320.5" x2="491.3" y2="340.5" stroke="#1e1e1e" stroke-width="2.0"/>
<line x1="493.2" y1="321.5" x2="493.2" y2="339.5" stroke="#1e1e1e" stroke-width="0.8"/>
<path d="M495,322.5 L504.5,317.5 M495,327.5 L505,322 M496.5,331.5 L505.5,327" stroke="#1e1e1e" stroke-width="1.5"/>
<path d="M495,324.5 L504.8,319.5 M496,329.5 L505.2,324.5" stroke="#1e1e1e" stroke-width="0.6"/>
<rect x="495.5" y="332" width="4.5" height="7.5" fill="#fff" stroke="#1e1e1e" stroke-width="0.9"/>
<rect x="501" y="330.5" width="4.8" height="6.5" fill="#fff" stroke="#1e1e1e" stroke-width="0.9"/>
<path d="M113.5,439 Q113.5,435 117.5,434 L136.5,441 Q139.5,442.5 139.5,446 L139.3,463 Q139,465.5 136,465.3 L116.5,458 Q113.5,457 113.5,454 Z" fill="#fff" stroke="#1e1e1e" stroke-width="1.2"/>
<path d="M114.5,440.5 L135.5,447.5 L134.8,463.5 L115,456.5 Z" fill="none" stroke="#1e1e1e" stroke-width="2.6" stroke-linejoin="round"/>
<path d="M116,438 L137,445" stroke="#1e1e1e" stroke-width="1.2"/>
<path d="M119.0,436.5 l1.2,1.8" stroke="#222" stroke-width="0.8"/>
<path d="M122.2,437.6 l1.2,1.8" stroke="#222" stroke-width="0.8"/>
<path d="M125.4,438.6 l1.2,1.8" stroke="#222" stroke-width="0.8"/>
<path d="M128.6,439.6 l1.2,1.8" stroke="#222" stroke-width="0.8"/>
<path d="M131.8,440.7 l1.2,1.8" stroke="#222" stroke-width="0.8"/>
<path d="M135.0,441.8 l1.2,1.8" stroke="#222" stroke-width="0.8"/>
<polygon points="116.2,440.9 131.9,446.6 131.1,461.9 116.2,456.7" fill="#fff" stroke="#1e1e1e" stroke-width="0.8" stroke-linejoin="round" />
<rect x="137.3" y="446" width="1.6" height="18" fill="#aaa"/>
<rect x="132.8" y="457" width="2.2" height="6" fill="#333"/>
<line x1="134.9" y1="447.0" x2="134.9" y2="464.0" stroke="#1e1e1e" stroke-width="1.0"/>
<line x1="414.5" y1="477.3" x2="412.4" y2="491.0" stroke="#1e1e1e" stroke-width="0.9"/>
<rect x="410.4" y="487" width="4.6" height="4.8" fill="#1e1e1e"/>
<line x1="413.0" y1="482.0" x2="415.0" y2="486.0" stroke="#1e1e1e" stroke-width="0.9"/>
<path d="M425.5,487 L442.5,478.5 Q445.5,479 444.5,482.5 L427.5,491.5 Q423.5,492 424,488 Z" fill="#fff" stroke="#1e1e1e" stroke-width="1.3"/>
<ellipse cx="425.5" cy="489.5" rx="2" ry="2.4" fill="#1e1e1e"/>
<line x1="434.2" y1="477.3" x2="434.2" y2="484.0" stroke="#1e1e1e" stroke-width="1.2"/>
<rect x="430.5" y="490.5" width="2.3" height="5.5" fill="#fff" stroke="#1e1e1e" stroke-width="0.8"/>
<rect x="433.5" y="489.5" width="2.3" height="5.5" fill="#fff" stroke="#1e1e1e" stroke-width="0.8"/>
<circle cx="439" cy="482.5" r="1.2" fill="none" stroke="#1e1e1e" stroke-width="0.8"/>
<rect x="452.5" y="479.5" width="11.3" height="5.8" rx="1" fill="#fff" stroke="#1e1e1e" stroke-width="1.3"/>
<rect x="455.5" y="477.3" width="5.5" height="2.2" fill="#1e1e1e"/>
<rect x="456.8" y="485.3" width="2.5" height="4" fill="#fff" stroke="#1e1e1e" stroke-width="0.8"/>
<rect x="457" y="489.5" width="2.6" height="11" fill="#777" stroke="#1e1e1e" stroke-width="0.7"/>
<path d="M460,487 Q466,486.5 466,491 L466,500.5" fill="none" stroke="#1e1e1e" stroke-width="2.6"/>
<path d="M460,487 Q466,486.5 466,491 L466,500.5" fill="none" stroke="#999" stroke-width="1.0"/>
<rect x="478" y="479.7" width="6.2" height="5.6" fill="#fff" stroke="#1e1e1e" stroke-width="1.3"/>
<rect x="480" y="477.8" width="2.4" height="2" fill="#1e1e1e"/>
<line x1="481.3" y1="485.3" x2="481.3" y2="499.0" stroke="#1e1e1e" stroke-width="1.5"/>
<rect x="506.2" y="480" width="5.6" height="5.5" fill="#fff" stroke="#1e1e1e" stroke-width="1.3"/>
<rect x="508" y="478" width="2" height="2" fill="#1e1e1e"/>
<line x1="509.0" y1="485.5" x2="509.0" y2="499.7" stroke="#1e1e1e" stroke-width="1.8"/>
<rect x="520.8" y="483.5" width="6.5" height="15" rx="1.5" fill="#fff" stroke="#1e1e1e" stroke-width="1.3"/>
<rect x="521.8" y="481.6" width="4.5" height="3" fill="#1e1e1e"/>
<rect x="520.8" y="486" width="6.5" height="1.6" fill="#1e1e1e"/>
<rect x="520.8" y="493.5" width="6.5" height="1.6" fill="#1e1e1e"/>
<rect x="522.3" y="498.5" width="3.5" height="3" fill="#fff" stroke="#1e1e1e" stroke-width="0.8"/>
<rect x="528.6" y="483.5" width="6.5" height="15" rx="1.5" fill="#fff" stroke="#1e1e1e" stroke-width="1.3"/>
<rect x="529.6" y="481.6" width="4.5" height="3" fill="#1e1e1e"/>
<rect x="528.6" y="486" width="6.5" height="1.6" fill="#1e1e1e"/>
<rect x="528.6" y="493.5" width="6.5" height="1.6" fill="#1e1e1e"/>
<rect x="530.1" y="498.5" width="3.5" height="3" fill="#fff" stroke="#1e1e1e" stroke-width="0.8"/>
<rect x="548.2" y="482.5" width="3.5" height="7.5" rx="1" fill="#fff" stroke="#1e1e1e" stroke-width="1.2"/>
<line x1="548.8" y1="485.5" x2="551.1" y2="485.5" stroke="#1e1e1e" stroke-width="1.0"/>
<line x1="550.0" y1="490.0" x2="550.0" y2="499.7" stroke="#1e1e1e" stroke-width="1.6"/>
<rect x="553.4" y="482.5" width="3.5" height="7.5" rx="1" fill="#fff" stroke="#1e1e1e" stroke-width="1.2"/>
<line x1="554.0" y1="485.5" x2="556.3" y2="485.5" stroke="#1e1e1e" stroke-width="1.0"/>
<line x1="555.1" y1="490.0" x2="555.1" y2="499.7" stroke="#1e1e1e" stroke-width="1.6"/>
<polygon points="233.6,617.0 245.2,609.4 249.1,610.7 249.1,614.5 236.2,621.5 233.6,621.5" fill="#fff" stroke="#1e1e1e" stroke-width="0.9" stroke-linejoin="round" />
<line x1="236.0" y1="618.0" x2="238.5" y2="619.5" stroke="#1e1e1e" stroke-width="0.9"/>
<line x1="239.0" y1="616.1" x2="241.5" y2="617.6" stroke="#1e1e1e" stroke-width="0.9"/>
<line x1="242.0" y1="614.2" x2="244.5" y2="615.7" stroke="#1e1e1e" stroke-width="0.9"/>
<line x1="245.0" y1="612.3" x2="247.5" y2="613.8" stroke="#1e1e1e" stroke-width="0.9"/>
<polygon points="286.6,606.0 294.3,608.4 294.3,610.4 286.6,608.0" fill="#fff" stroke="#1e1e1e" stroke-width="0.8" stroke-linejoin="round" />
<polyline points="325.4,619.7 329.0,614.5 330.5,619.7" fill="none" stroke="#1e1e1e" stroke-width="0.9" stroke-linejoin="round" />
<polygon points="340.9,622.3 348.6,624.7 348.6,626.5 340.9,624.1" fill="#fff" stroke="#1e1e1e" stroke-width="0.8" stroke-linejoin="round" />
<path d="M210,645 L212,657 L233,662 L235,690 L252,693 L252,667 L276.6,672 L280.4,708 L351,712 L356.3,711.5 L405.7,684 L411.4,656 L413.3,652 L356.3,688 Z" fill="#fff" stroke="none"/>
<polyline points="210.0,646.0 212.0,657.0 217.0,658.5 217.0,664.0 233.0,668.0" fill="none" stroke="#1e1e1e" stroke-width="0.9" stroke-linejoin="round" />
<polygon points="235.5,663.0 237.7,663.5 237.7,692.2 235.5,690.5" fill="#fff" stroke="#1e1e1e" stroke-width="1.1" stroke-linejoin="round" />
<polygon points="239.5,663.0 241.7,663.5 241.7,692.2 239.5,690.5" fill="#fff" stroke="#1e1e1e" stroke-width="1.1" stroke-linejoin="round" />
<polygon points="243.5,663.0 245.7,663.5 245.7,692.2 243.5,690.5" fill="#fff" stroke="#1e1e1e" stroke-width="1.1" stroke-linejoin="round" />
<polygon points="247.5,663.0 249.7,663.5 249.7,692.2 247.5,690.5" fill="#fff" stroke="#1e1e1e" stroke-width="1.1" stroke-linejoin="round" />
<polygon points="251.7,665.5 262.0,667.5 275.1,703.5 274.3,709.2 251.7,709.2" fill="#fff" stroke="#1e1e1e" stroke-width="0.9" stroke-linejoin="round" />
<line x1="251.7" y1="665.5" x2="251.7" y2="709.2" stroke="#1e1e1e" stroke-width="1.0"/>
<polygon points="259.8,670.4 266.2,671.5 266.2,680.0 259.8,679.0" fill="none" stroke="#1e1e1e" stroke-width="0.8" stroke-linejoin="round" />
<rect x="261" y="672" width="3" height="6" fill="#444"/>
<circle cx="254.5" cy="671" r="0.9" fill="#333"/>
<polygon points="269.5,667.0 275.1,668.0 275.1,706.7 270.5,706.0" fill="#fff" stroke="#1e1e1e" stroke-width="0.9" stroke-linejoin="round" />
<polygon points="275.1,668.0 283.0,666.0 283.0,704.0 275.1,706.7" fill="#fff" stroke="#1e1e1e" stroke-width="0.9" stroke-linejoin="round" />
<polyline points="251.7,709.2 262.0,711.5 275.1,706.7" fill="none" stroke="#1e1e1e" stroke-width="0.9" stroke-linejoin="round" />
<line x1="283.8" y1="670.4" x2="332.5" y2="683.4" stroke="#1e1e1e" stroke-width="0.9"/>
<line x1="276.0" y1="664.5" x2="276.0" y2="705.0" stroke="#1e1e1e" stroke-width="1.0"/>
<line x1="280.0" y1="665.0" x2="280.0" y2="704.0" stroke="#1e1e1e" stroke-width="0.7"/>
<line x1="283.8" y1="666.0" x2="283.8" y2="704.0" stroke="#1e1e1e" stroke-width="1.0"/>
<line x1="284.5" y1="686.3" x2="300.5" y2="676.2" stroke="#1e1e1e" stroke-width="0.8"/>
<ellipse cx="301.6" cy="682" rx="4.6" ry="2.2" fill="#fff" stroke="#222" stroke-width="0.8"/>
<polyline points="284.0,702.3 296.2,692.2 312.2,698.0 312.2,684.9 332.5,685.6 332.5,705.2" fill="none" stroke="#1e1e1e" stroke-width="0.9" stroke-linejoin="round" />
<line x1="303.4" y1="698.0" x2="351.4" y2="714.0" stroke="#1e1e1e" stroke-width="0.9"/>
<line x1="334.5" y1="686.0" x2="334.5" y2="708.0" stroke="#1e1e1e" stroke-width="0.8"/>
<line x1="318.0" y1="687.0" x2="332.0" y2="696.0" stroke="#1e1e1e" stroke-width="0.6"/>
<circle cx="297.6" cy="694.5" r="2" fill="#fff" stroke="#1e1e1e" stroke-width="1"/>
<circle cx="330.5" cy="703" r="1.5" fill="#333"/>
<line x1="351.5" y1="689.0" x2="351.5" y2="714.0" stroke="#1e1e1e" stroke-width="0.9"/>
<polygon points="351.5,689.5 356.3,688.0 356.3,711.5 351.5,710.5" fill="#fff" stroke="#1e1e1e" stroke-width="0.9" stroke-linejoin="round" />
<polygon points="356.3,688.0 411.4,657.0 407.1,684.0 358.8,711.3" fill="#fff" stroke="#1e1e1e" stroke-width="1.0" stroke-linejoin="round" />
<line x1="370.5" y1="682.0" x2="370.5" y2="698.0" stroke="#1e1e1e" stroke-width="1.6"/>
<line x1="385.5" y1="674.0" x2="385.5" y2="692.0" stroke="#1e1e1e" stroke-width="1.6"/>
<line x1="395.5" y1="668.0" x2="395.5" y2="686.5" stroke="#1e1e1e" stroke-width="1.6"/>
<line x1="405.0" y1="662.0" x2="405.0" y2="681.0" stroke="#1e1e1e" stroke-width="1.6"/>
<rect x="369" y="682" width="4" height="9" fill="#333"/>
<line x1="333.0" y1="690.0" x2="333.0" y2="700.0" stroke="#1e1e1e" stroke-width="0.6"/>
<path d="M208.3,639.4 L208.5,644.5 L356.3,688.5 L413.3,653.5 L413.3,648.8 L356.3,683 Z" fill="#fff" stroke="#1e1e1e" stroke-width="1"/>
<path d="M208.3,639.4 L259.5,603.5 Q262,601.5 266,602.5 L411,646 Q414,647.5 413.3,648.8 L356.3,683 Z" fill="#fff" stroke="#1e1e1e" stroke-width="1.1"/>
<path d="M212.1,641.5 L210.3,644.4 M214.4,642.1 L212.6,645.0 M216.6,642.8 L214.8,645.7 M218.8,643.4 L217.0,646.3 M221.1,644.1 L219.3,647.0 M223.3,644.8 L221.5,647.7 M225.5,645.4 L223.7,648.3 M227.8,646.1 L226.0,649.0 M230.0,646.7 L228.2,649.6 M232.2,647.4 L230.4,650.3 M234.5,648.0 L232.7,651.0 M236.7,648.7 L234.9,651.6 M238.9,649.4 L237.1,652.3 M241.1,650.0 L239.3,652.9 M243.4,650.7 L241.6,653.6 M245.6,651.3 L243.8,654.2 M247.8,652.0 L246.0,654.9 M250.1,652.7 L248.3,655.6 M252.3,653.3 L250.5,656.2 M254.5,654.0 L252.7,656.9 M256.8,654.6 L255.0,657.5 M259.0,655.3 L257.2,658.2 M261.2,656.0 L259.4,658.9 M263.5,656.6 L261.7,659.5 M265.7,657.3 L263.9,660.2 M267.9,657.9 L266.1,660.8 M270.2,658.6 L268.4,661.5 M272.4,659.3 L270.6,662.2 M274.6,659.9 L272.8,662.8 M276.9,660.6 L275.1,663.5 M279.1,661.2 L277.3,664.1 M281.3,661.9 L279.5,664.8 M283.5,662.5 L281.8,665.5 M285.8,663.2 L284.0,666.1 M288.0,663.9 L286.2,666.8 M290.2,664.5 L288.4,667.4 M292.5,665.2 L290.7,668.1 M294.7,665.8 L292.9,668.7 M296.9,666.5 L295.1,669.4 M299.2,667.2 L297.4,670.1 M301.4,667.8 L299.6,670.7 M303.6,668.5 L301.8,671.4 M305.9,669.1 L304.1,672.0 M308.1,669.8 L306.3,672.7 M310.3,670.5 L308.5,673.4 M312.6,671.1 L310.8,674.0 M314.8,671.8 L313.0,674.7 M317.0,672.4 L315.2,675.3 M319.3,673.1 L317.5,676.0 M321.5,673.8 L319.7,676.7 M323.7,674.4 L321.9,677.3 M326.0,675.1 L324.2,678.0 M328.2,675.7 L326.4,678.6 M330.4,676.4 L328.6,679.3 M332.6,677.0 L330.9,680.0 M334.9,677.7 L333.1,680.6 M337.1,678.4 L335.3,681.3 M339.3,679.0 L337.5,681.9 M341.6,679.7 L339.8,682.6 M343.8,680.3 L342.0,683.2 M346.0,681.0 L344.2,683.9 M348.3,681.7 L346.5,684.6 M350.5,682.3 L348.7,685.2 M352.7,683.0 L350.9,685.9 M355.0,683.6 L353.2,686.5 M359.2,683.1 L357.4,686.0 M361.2,681.9 L359.4,684.8 M363.2,680.7 L361.4,683.6 M365.2,679.4 L363.4,682.3 M367.2,678.2 L365.4,681.1 M369.2,677.0 L367.4,679.9 M371.2,675.8 L369.5,678.7 M373.3,674.6 L371.5,677.5 M375.3,673.4 L373.5,676.3 M377.3,672.2 L375.5,675.1 M379.3,670.9 L377.5,673.8 M381.3,669.7 L379.5,672.6 M383.3,668.5 L381.5,671.4 M385.3,667.3 L383.5,670.2 M387.3,666.1 L385.5,669.0 M389.3,664.9 L387.5,667.8 M391.3,663.7 L389.5,666.6 M393.3,662.4 L391.5,665.3 M395.3,661.2 L393.5,664.1 M397.3,660.0 L395.5,662.9 M399.3,658.8 L397.6,661.7 M401.4,657.6 L399.6,660.5 M403.4,656.4 L401.6,659.3 M405.4,655.2 L403.6,658.1 M407.4,653.9 L405.6,656.8 M409.4,652.7 L407.6,655.6 M411.4,651.5 L409.6,654.4" stroke="#333" stroke-width="0.8"/>
<path d="M263,605.5 l5,1.6 M217,636.5 l5,1.6" stroke="#333" stroke-width="1.2"/>
<circle cx="248.5" cy="658.3" r="2.2" fill="#fff" stroke="#1e1e1e" stroke-width="0.9"/>
<circle cx="279.2" cy="666.3" r="2.2" fill="#fff" stroke="#1e1e1e" stroke-width="0.9"/>
<circle cx="354" cy="688.5" r="2.2" fill="#fff" stroke="#1e1e1e" stroke-width="0.9"/>
<polygon points="342.0,713.4 408.0,678.4 446.7,691.5 386.6,727.9" fill="#fff" stroke="#1e1e1e" stroke-width="1.0" stroke-linejoin="round" />
<polygon points="386.6,727.9 446.7,691.5 485.5,747.2 424.4,787.0" fill="#fff" stroke="#1e1e1e" stroke-width="1.1" stroke-linejoin="round" />
<polygon points="424.4,787.0 485.5,747.2 485.5,757.0 425.4,796.7" fill="#fff" stroke="#1e1e1e" stroke-width="1.0" stroke-linejoin="round" />
<circle cx="409.7" cy="722.8" r="1.6" fill="#222"/>
<circle cx="411.7" cy="726.0" r="1.6" fill="#222"/>
<circle cx="413.7" cy="729.3" r="1.6" fill="#222"/>
<circle cx="415.7" cy="732.5" r="1.6" fill="#222"/>
<circle cx="417.6" cy="735.7" r="1.6" fill="#222"/>
<circle cx="419.6" cy="738.9" r="1.6" fill="#222"/>
<circle cx="421.6" cy="742.2" r="1.6" fill="#222"/>
<circle cx="423.6" cy="745.4" r="1.6" fill="#222"/>
<circle cx="425.6" cy="748.6" r="1.6" fill="#222"/>
<circle cx="427.6" cy="751.9" r="1.6" fill="#222"/>
<circle cx="429.6" cy="755.1" r="1.6" fill="#222"/>
<circle cx="431.5" cy="758.3" r="1.6" fill="#222"/>
<circle cx="433.5" cy="761.5" r="1.6" fill="#222"/>
<circle cx="435.5" cy="764.8" r="1.6" fill="#222"/>
<circle cx="437.5" cy="768.0" r="1.6" fill="#222"/>
<circle cx="436.2" cy="772" r="2.4" fill="#222"/>
<g transform="translate(419.4,729.2) rotate(-28.3)"><rect x="0" y="0" width="36.7" height="16" rx="2" fill="#fff" stroke="#1e1e1e" stroke-width="1.3"/><rect x="2.5" y="2" width="9" height="12" rx="1" fill="#fff" stroke="#1e1e1e" stroke-width="0.9"/><rect x="5" y="4" width="3.5" height="8" fill="none" stroke="#1e1e1e" stroke-width="0.7"/></g>
<rect x="428.5" y="716.9" width="3" height="3" fill="#fff" stroke="#1e1e1e" stroke-width="1.0" transform="rotate(-28.3 430.0 718.4)"/>
<rect x="432.4" y="714.8" width="3" height="3" fill="#fff" stroke="#1e1e1e" stroke-width="1.0" transform="rotate(-28.3 433.9 716.3)"/>
<rect x="436.3" y="712.7" width="3" height="3" fill="#fff" stroke="#1e1e1e" stroke-width="1.0" transform="rotate(-28.3 437.8 714.2)"/>
<rect x="440.2" y="710.6" width="3" height="3" fill="#fff" stroke="#1e1e1e" stroke-width="1.0" transform="rotate(-28.3 441.7 712.1)"/>
<rect x="444.0" y="708.5" width="3" height="3" fill="#fff" stroke="#1e1e1e" stroke-width="1.0" transform="rotate(-28.3 445.5 710.0)"/>
<rect x="431.6" y="722.6" width="3" height="3" fill="#fff" stroke="#1e1e1e" stroke-width="1.0" transform="rotate(-28.3 433.1 724.1)"/>
<rect x="435.5" y="720.5" width="3" height="3" fill="#fff" stroke="#1e1e1e" stroke-width="1.0" transform="rotate(-28.3 437.0 722.0)"/>
<rect x="439.4" y="718.4" width="3" height="3" fill="#fff" stroke="#1e1e1e" stroke-width="1.0" transform="rotate(-28.3 440.9 719.9)"/>
<rect x="443.2" y="716.3" width="3" height="3" fill="#fff" stroke="#1e1e1e" stroke-width="1.0" transform="rotate(-28.3 444.7 717.8)"/>
<rect x="447.1" y="714.2" width="3" height="3" fill="#fff" stroke="#1e1e1e" stroke-width="1.0" transform="rotate(-28.3 448.6 715.7)"/>
<rect x="434.7" y="728.3" width="3" height="3" fill="#fff" stroke="#1e1e1e" stroke-width="1.0" transform="rotate(-28.3 436.2 729.8)"/>
<rect x="438.6" y="726.2" width="3" height="3" fill="#fff" stroke="#1e1e1e" stroke-width="1.0" transform="rotate(-28.3 440.1 727.7)"/>
<rect x="442.4" y="724.1" width="3" height="3" fill="#fff" stroke="#1e1e1e" stroke-width="1.0" transform="rotate(-28.3 443.9 725.6)"/>
<rect x="446.3" y="722.1" width="3" height="3" fill="#fff" stroke="#1e1e1e" stroke-width="1.0" transform="rotate(-28.3 447.8 723.6)"/>
<rect x="450.2" y="720.0" width="3" height="3" fill="#fff" stroke="#1e1e1e" stroke-width="1.0" transform="rotate(-28.3 451.7 721.5)"/>
<circle cx="435" cy="748" r="0.95" fill="#222"/>
<circle cx="439" cy="747" r="0.95" fill="#222"/>
<circle cx="441" cy="756" r="0.95" fill="#222"/>
<circle cx="444" cy="755" r="0.95" fill="#222"/>
<circle cx="449" cy="741.5" r="0.95" fill="#222"/>
<circle cx="451.7" cy="740" r="0.95" fill="#222"/>
<circle cx="454" cy="739" r="0.95" fill="#222"/>
<circle cx="450.5" cy="750" r="0.95" fill="#222"/>
<circle cx="453.7" cy="749.5" r="0.95" fill="#222"/>
<circle cx="451.7" cy="756" r="0.95" fill="#222"/>
<circle cx="454.3" cy="755" r="0.95" fill="#222"/>
<circle cx="456.8" cy="754" r="0.95" fill="#222"/>
<circle cx="460.8" cy="732.5" r="0.95" fill="#222"/>
<circle cx="463.3" cy="731.2" r="0.95" fill="#222"/>
<circle cx="462" cy="743" r="0.95" fill="#222"/>
<circle cx="464.6" cy="741.7" r="0.95" fill="#222"/>
<circle cx="416.8" cy="722.6" r="0.95" fill="#222"/>
<circle cx="434" cy="730" r="0.95" fill="#222"/>
<circle cx="445" cy="735" r="0.95" fill="#222"/>
<circle cx="457" cy="746" r="0.95" fill="#222"/>
<circle cx="406" cy="689" r="0.95" fill="#333"/>
<circle cx="412" cy="693" r="0.95" fill="#333"/>
<circle cx="418" cy="700" r="0.95" fill="#333"/>
<circle cx="404" cy="697" r="0.95" fill="#333"/>
<circle cx="420" cy="692" r="0.95" fill="#333"/>
<circle cx="430" cy="698" r="0.95" fill="#333"/>
<circle cx="425" cy="705" r="0.95" fill="#333"/>
<circle cx="436" cy="701" r="0.95" fill="#333"/>
<circle cx="402" cy="706" r="0.95" fill="#333"/>
<circle cx="398" cy="712" r="0.95" fill="#333"/>
<circle cx="410" cy="708" r="0.95" fill="#333"/>
<circle cx="431" cy="687" r="0.95" fill="#333"/>
<circle cx="440" cy="696" r="0.95" fill="#333"/>
<circle cx="414.5" cy="697" r="2.2" fill="#333"/>
<circle cx="474" cy="760" r="0.9" fill="#333"/>
<circle cx="460" cy="770" r="0.9" fill="#333"/>
<circle cx="444" cy="781" r="0.9" fill="#333"/>
<polygon points="414.7,678.0 430.0,673.5 441.9,679.0 441.9,691.0 428.0,696.0 414.7,690.0" fill="#fff" stroke="#1e1e1e" stroke-width="1.1" stroke-linejoin="round" />
<polygon points="414.7,678.0 430.0,673.5 441.9,679.0 428.0,684.0" fill="#2a2a2a" stroke="#1e1e1e" stroke-width="0.8" stroke-linejoin="round" />
<line x1="417.0" y1="683.0" x2="418.0" y2="692.0" stroke="#1e1e1e" stroke-width="0.9"/>
<line x1="419.2" y1="683.0" x2="420.2" y2="692.0" stroke="#1e1e1e" stroke-width="0.9"/>
<line x1="421.4" y1="683.0" x2="422.4" y2="692.0" stroke="#1e1e1e" stroke-width="0.9"/>
<line x1="423.6" y1="683.0" x2="424.6" y2="692.0" stroke="#1e1e1e" stroke-width="0.9"/>
<line x1="425.8" y1="683.0" x2="426.8" y2="692.0" stroke="#1e1e1e" stroke-width="0.9"/>
<line x1="428.0" y1="683.0" x2="429.0" y2="692.0" stroke="#1e1e1e" stroke-width="0.9"/>
<polygon points="375.0,705.0 387.5,709.8 388.5,720.8 375.5,717.5" fill="#fff" stroke="#1e1e1e" stroke-width="1.0" stroke-linejoin="round" />
<polygon points="387.5,709.8 397.5,705.0 397.5,716.0 388.5,720.8" fill="#fff" stroke="#1e1e1e" stroke-width="1.0" stroke-linejoin="round" />
<polygon points="375.0,705.0 385.0,700.5 397.5,705.0 387.5,709.8" fill="#fff" stroke="#1e1e1e" stroke-width="1.0" stroke-linejoin="round" />
<rect x="379" y="704" width="1.6" height="2.2" fill="#222"/>
<rect x="382" y="703" width="1.6" height="2.2" fill="#222"/>
<rect x="385" y="702" width="1.6" height="2.2" fill="#222"/>
<rect x="388" y="704.5" width="1.6" height="2.2" fill="#222"/>
<rect x="391" y="703.5" width="1.6" height="2.2" fill="#222"/>
<line x1="377.5" y1="708.0" x2="377.5" y2="714.0" stroke="#1e1e1e" stroke-width="0.9"/>
<line x1="380.5" y1="708.0" x2="380.5" y2="714.0" stroke="#1e1e1e" stroke-width="0.9"/>
<line x1="383.5" y1="708.0" x2="383.5" y2="714.0" stroke="#1e1e1e" stroke-width="0.9"/>
<line x1="374.0" y1="719.0" x2="398.0" y2="714.0" stroke="#1e1e1e" stroke-width="0.6"/>
<path d="M343.3,717.9 L384.6,730.8 L386,733 L347,721 Z" fill="#444" stroke="#1e1e1e" stroke-width="0.8"/>
<path d="M336.2,733 Q336.2,729.5 339.5,728 L345.8,723.1 L378,731.8 Q381.5,733 383,736 L385.3,753 Q385.5,756 383,758 L370,765.5 Q367.5,766 365,765.3 L339,757 Q336.2,756 336.2,753 Z" fill="#fff" stroke="#1e1e1e" stroke-width="1.1"/>
<path d="M336.2,733 L366,740.5 Q369.5,741.5 369.5,745 L368,764.8" fill="none" stroke="#1e1e1e" stroke-width="0.9"/>
<path d="M345.8,723.1 L378,731.8 L369,739" fill="none" stroke="#1e1e1e" stroke-width="0.7"/>
<line x1="339.0" y1="731.0" x2="366.0" y2="738.0" stroke="#1e1e1e" stroke-width="0.6"/>
<circle cx="379.5" cy="741.2" r="3" fill="#333" stroke="#1e1e1e" stroke-width="0.8"/>
<circle cx="380.1" cy="750.2" r="3.3" fill="#333" stroke="#1e1e1e" stroke-width="0.8"/>
<circle cx="379.5" cy="741.2" r="1.3" fill="#888"/><circle cx="380.1" cy="750.2" r="1.3" fill="#888"/>
<line x1="413.0" y1="655.0" x2="446.7" y2="691.5" stroke="#1e1e1e" stroke-width="0"/>
<line x1="107.4" y1="73.2" x2="245.2" y2="204.8" stroke="#1e1e1e" stroke-width="1.0"/>
<polygon points="245.2,204.8 240.5,202.5 242.7,200.2" fill="#1e1e1e"/>
<line x1="140.9" y1="74.6" x2="308.5" y2="249.5" stroke="#1e1e1e" stroke-width="1.0"/>
<polygon points="308.5,249.5 303.9,247.0 306.2,244.8" fill="#1e1e1e"/>
<line x1="164.1" y1="73.9" x2="299.0" y2="230.2" stroke="#1e1e1e" stroke-width="1.0"/>
<polygon points="299.0,230.2 294.5,227.5 296.9,225.4" fill="#1e1e1e"/>
<line x1="234.6" y1="74.1" x2="261.5" y2="146.0" stroke="#1e1e1e" stroke-width="1.0"/>
<polygon points="261.5,146.0 258.2,141.9 261.2,140.8" fill="#1e1e1e"/>
<line x1="309.8" y1="76.8" x2="354.9" y2="195.5" stroke="#1e1e1e" stroke-width="1.0"/>
<polygon points="354.9,195.5 351.6,191.4 354.6,190.3" fill="#1e1e1e"/>
<line x1="438.5" y1="76.3" x2="384.2" y2="145.6" stroke="#1e1e1e" stroke-width="1.0"/>
<polygon points="384.2,145.6 386.0,140.7 388.5,142.7" fill="#1e1e1e"/>
<line x1="560.0" y1="79.2" x2="470.8" y2="213.4" stroke="#1e1e1e" stroke-width="1.0"/>
<polygon points="470.8,213.4 472.2,208.4 474.9,210.1" fill="#1e1e1e"/>
<line x1="111.8" y1="150.0" x2="309.0" y2="300.2" stroke="#1e1e1e" stroke-width="1.0"/>
<polygon points="309.0,300.2 304.1,298.4 306.0,295.9" fill="#1e1e1e"/>
<line x1="111.3" y1="187.8" x2="282.0" y2="319.0" stroke="#1e1e1e" stroke-width="1.0"/>
<polygon points="282.0,319.0 277.1,317.2 279.0,314.7" fill="#1e1e1e"/>
<line x1="113.3" y1="267.9" x2="217.6" y2="308.0" stroke="#1e1e1e" stroke-width="1.0"/>
<polygon points="217.6,308.0 212.4,307.7 213.5,304.7" fill="#1e1e1e"/>
<line x1="98.2" y1="521.8" x2="128.7" y2="448.5" stroke="#1e1e1e" stroke-width="1.0"/>
<polygon points="128.7,448.5 128.3,453.7 125.3,452.5" fill="#1e1e1e"/>
<line x1="208.4" y1="543.6" x2="259.3" y2="448.8" stroke="#1e1e1e" stroke-width="1.0"/>
<polygon points="259.3,448.8 258.3,454.0 255.5,452.4" fill="#1e1e1e"/>
<line x1="269.2" y1="542.0" x2="340.1" y2="372.2" stroke="#1e1e1e" stroke-width="1.0"/>
<polygon points="340.1,372.2 339.6,377.4 336.7,376.2" fill="#1e1e1e"/>
<line x1="308.0" y1="542.0" x2="354.7" y2="406.2" stroke="#1e1e1e" stroke-width="1.0"/>
<polygon points="354.7,406.2 354.6,411.4 351.6,410.4" fill="#1e1e1e"/>
<line x1="341.6" y1="542.0" x2="384.3" y2="398.3" stroke="#1e1e1e" stroke-width="1.0"/>
<polygon points="384.3,398.3 384.4,403.5 381.3,402.6" fill="#1e1e1e"/>
<line x1="378.5" y1="542.0" x2="405.6" y2="376.5" stroke="#1e1e1e" stroke-width="1.0"/>
<polygon points="405.6,376.5 406.4,381.7 403.2,381.2" fill="#1e1e1e"/>
<line x1="402.8" y1="542.0" x2="412.4" y2="495.5" stroke="#1e1e1e" stroke-width="1.0"/>
<polygon points="412.4,495.5 413.0,500.7 409.8,500.1" fill="#1e1e1e"/>
<line x1="425.9" y1="542.2" x2="432.8" y2="498.4" stroke="#1e1e1e" stroke-width="1.0"/>
<polygon points="432.8,498.4 433.6,503.6 430.4,503.1" fill="#1e1e1e"/>
<line x1="453.5" y1="542.2" x2="462.5" y2="501.3" stroke="#1e1e1e" stroke-width="1.0"/>
<polygon points="462.5,501.3 463.0,506.5 459.9,505.8" fill="#1e1e1e"/>
<line x1="472.7" y1="543.3" x2="480.8" y2="501.3" stroke="#1e1e1e" stroke-width="1.0"/>
<polygon points="480.8,501.3 481.4,506.5 478.3,505.9" fill="#1e1e1e"/>
<line x1="500.5" y1="543.8" x2="507.0" y2="501.3" stroke="#1e1e1e" stroke-width="1.0"/>
<polygon points="507.0,501.3 507.8,506.5 504.7,506.0" fill="#1e1e1e"/>
<line x1="517.2" y1="544.9" x2="524.4" y2="501.3" stroke="#1e1e1e" stroke-width="1.0"/>
<polygon points="524.4,501.3 525.2,506.5 522.0,506.0" fill="#1e1e1e"/>
<line x1="544.4" y1="544.4" x2="553.5" y2="501.3" stroke="#1e1e1e" stroke-width="1.0"/>
<polygon points="553.5,501.3 554.0,506.5 550.9,505.9" fill="#1e1e1e"/>
<line x1="580.5" y1="317.3" x2="437.1" y2="294.2" stroke="#1e1e1e" stroke-width="1.0"/>
<polygon points="437.1,294.2 442.3,293.4 441.8,296.6" fill="#1e1e1e"/>
<line x1="579.7" y1="354.0" x2="507.4" y2="332.1" stroke="#1e1e1e" stroke-width="1.0"/>
<polygon points="507.4,332.1 512.6,332.0 511.7,335.1" fill="#1e1e1e"/>
<line x1="580.5" y1="386.4" x2="470.7" y2="352.2" stroke="#1e1e1e" stroke-width="1.0"/>
<polygon points="470.7,352.2 475.9,352.2 475.0,355.2" fill="#1e1e1e"/>
<line x1="580.5" y1="411.9" x2="347.4" y2="337.3" stroke="#1e1e1e" stroke-width="1.0"/>
<polygon points="347.4,337.3 352.6,337.3 351.7,340.3" fill="#1e1e1e"/>
<line x1="354.9" y1="602.0" x2="310.2" y2="657.2" stroke="#1e1e1e" stroke-width="1.0"/>
<polygon points="310.2,657.2 312.1,652.3 314.6,654.3" fill="#1e1e1e"/>
<line x1="283.7" y1="769.6" x2="352.9" y2="746.4" stroke="#1e1e1e" stroke-width="1.0"/>
<polygon points="352.9,746.4 348.7,749.5 347.7,746.5" fill="#1e1e1e"/>
<line x1="441.3" y1="604.9" x2="393.3" y2="703.8" stroke="#1e1e1e" stroke-width="1.0"/>
<polygon points="393.3,703.8 394.0,698.6 396.9,700.0" fill="#1e1e1e"/>
<line x1="496.4" y1="606.7" x2="439.0" y2="674.7" stroke="#1e1e1e" stroke-width="1.0"/>
<polygon points="439.0,674.7 441.0,669.8 443.4,671.9" fill="#1e1e1e"/>
<line x1="530.1" y1="676.0" x2="457.2" y2="715.4" stroke="#1e1e1e" stroke-width="1.0"/>
<polygon points="457.2,715.4 460.8,711.6 462.4,714.4" fill="#1e1e1e"/>
<g fill="#c3c6ca">
<circle cx="103.2" cy="65.3" r="9.1"/>
<circle cx="137.7" cy="65.3" r="9.1"/>
<circle cx="162.2" cy="65.3" r="9.1"/>
<circle cx="234.6" cy="65.4" r="9.1"/>
<circle cx="309" cy="67.3" r="9.1"/>
<circle cx="438.5" cy="67.3" r="9.1"/>
<circle cx="562" cy="70" r="9.1"/>
<circle cx="103.1" cy="147.1" r="9.1"/>
<circle cx="103.1" cy="183.5" r="9.1"/>
<circle cx="104.5" cy="265" r="9.1"/>
<circle cx="589.3" cy="318.2" r="9.1"/>
<circle cx="589.3" cy="353.2" r="9.1"/>
<circle cx="589.3" cy="386.4" r="9.1"/>
<circle cx="589.3" cy="412.3" r="9.1"/>
<circle cx="95.7" cy="530.3" r="9.1"/>
<circle cx="204.8" cy="552.1" r="9.1"/>
<circle cx="266.6" cy="550.4" r="9.1"/>
<circle cx="306.7" cy="550.3" r="9.1"/>
<circle cx="338.2" cy="550.3" r="9.1"/>
<circle cx="376.3" cy="550.5" r="9.1"/>
<circle cx="402.2" cy="550.3" r="9.1"/>
<circle cx="425.9" cy="550.5" r="9.1"/>
<circle cx="450.7" cy="550.5" r="9.1"/>
<circle cx="472.7" cy="551.7" r="9.1"/>
<circle cx="496.9" cy="552.8" r="9.1"/>
<circle cx="516.3" cy="553.5" r="9.1"/>
<circle cx="541.7" cy="552.8" r="9.1"/>
<circle cx="359.5" cy="593.2" r="9.1"/>
<circle cx="446.6" cy="596" r="9.1"/>
<circle cx="502.4" cy="598.5" r="9.1"/>
<circle cx="539" cy="668.9" r="9.1"/>
<circle cx="275.8" cy="773.9" r="9.1"/>
</g>
<g fill="#1a1a2a" font-family="Liberation Sans" font-size="15" text-anchor="middle">
<text transform="translate(103.2,70.89999999999999) scale(1,1.13)">6</text>
<text transform="translate(137.7,70.89999999999999) scale(1,1.13)">7</text>
<text transform="translate(162.2,70.89999999999999) scale(1,1.13)">8</text>
<text transform="translate(234.6,71.0) scale(1,1.13)">9</text>
<text transform="translate(309,72.89999999999999) scale(1,1.13)">10</text>
<text transform="translate(438.5,72.89999999999999) scale(1,1.13)">11</text>
<text transform="translate(562,75.6) scale(1,1.13)">A</text>
<text transform="translate(103.1,152.7) scale(1,1.13)">5</text>
<text transform="translate(103.1,189.1) scale(1,1.13)">4</text>
<text transform="translate(104.5,270.6) scale(1,1.13)">3</text>
<text transform="translate(589.3,323.8) scale(1,1.13)">12</text>
<text transform="translate(589.3,358.8) scale(1,1.13)">13</text>
<text transform="translate(589.3,392.0) scale(1,1.13)">14</text>
<text transform="translate(589.3,417.90000000000003) scale(1,1.13)">15</text>
<text transform="translate(95.7,535.9) scale(1,1.13)">2</text>
<text transform="translate(204.8,557.7) scale(1,1.13)">1</text>
<text transform="translate(266.6,556.0) scale(1,1.13)">26</text>
<text transform="translate(306.7,555.9) scale(1,1.13)">25</text>
<text transform="translate(338.2,555.9) scale(1,1.13)">24</text>
<text transform="translate(376.3,556.1) scale(1,1.13)">23</text>
<text transform="translate(402.2,555.9) scale(1,1.13)">22</text>
<text transform="translate(425.9,556.1) scale(1,1.13)">21</text>
<text transform="translate(450.7,556.1) scale(1,1.13)">20</text>
<text transform="translate(472.7,557.3000000000001) scale(1,1.13)">19</text>
<text transform="translate(496.9,558.4) scale(1,1.13)">18</text>
<text transform="translate(516.3,559.1) scale(1,1.13)">17</text>
<text transform="translate(541.7,558.4) scale(1,1.13)">16</text>
<text transform="translate(359.5,598.8000000000001) scale(1,1.13)">27</text>
<text transform="translate(446.6,601.6) scale(1,1.13)">28</text>
<text transform="translate(502.4,604.1) scale(1,1.13)">29</text>
<text transform="translate(539,674.5) scale(1,1.13)">30</text>
<text transform="translate(275.8,779.5) scale(1,1.13)">31</text>
</g>
</svg>
</body></html>
